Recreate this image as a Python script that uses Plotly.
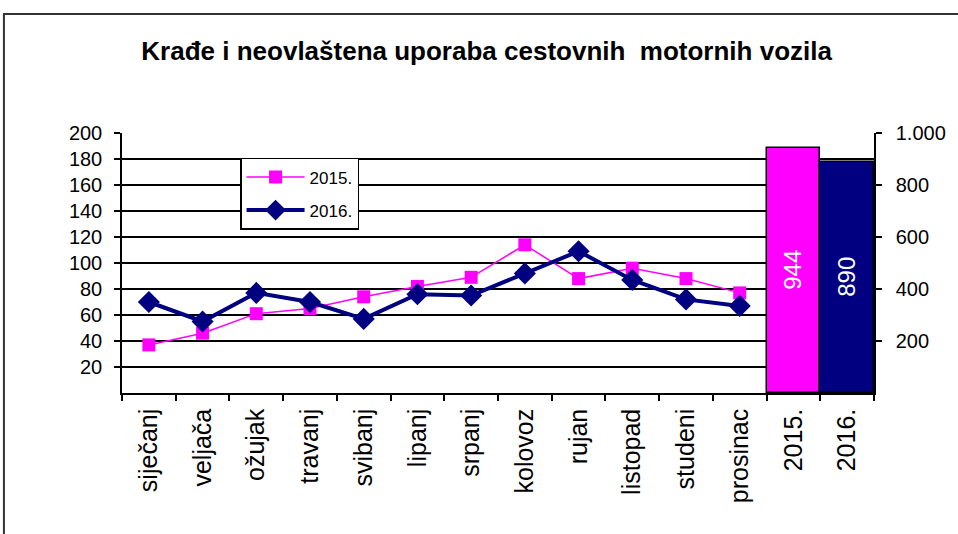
import plotly.graph_objects as go

months = ["siječanj", "veljača", "ožujak", "travanj", "svibanj", "lipanj",
          "srpanj", "kolovoz", "rujan", "listopad", "studeni", "prosinac"]
year_labels = ["2015.", "2016."]
series_2015 = [37, 46, 61, 65, 74, 82, 89, 114, 88, 96, 88, 77]
series_2016 = [70, 55, 77, 70, 57, 76, 75, 92, 109, 87, 72, 67]
totals = [944, 890]
total_colors = ["#FF00FF", "#000080"]
left_ticks = [20, 40, 60, 80, 100, 120, 140, 160, 180, 200]
right_ticks = [200, 400, 600, 800, 1000]
right_tick_text = ["200", "400", "600", "800", "1.000"]

FONT = "Liberation Sans, Arial, sans-serif"
categories = months + year_labels

fig = go.Figure()

fig.add_trace(go.Bar(
    x=year_labels, y=totals, yaxis="y2", width=1,
    marker=dict(color=total_colors, line=dict(color="black", width=1.5)),
    text=[str(v) for v in totals], textposition="inside",
    insidetextanchor="middle", textangle=-90,
    textfont=dict(color="white", size=24, family=FONT),
    showlegend=False, hoverinfo="skip",
))

fig.add_trace(go.Scatter(
    x=months, y=series_2015, name="2015.", mode="lines+markers",
    legendgroup="a",
    line=dict(color="#FF00FF", width=1.5),
    marker=dict(symbol="square", size=13, color="#FF00FF"),
))
fig.add_trace(go.Scatter(
    x=months, y=series_2016, name="2016.", mode="lines+markers",
    legendgroup="b",
    line=dict(color="#000080", width=4),
    marker=dict(symbol="diamond", size=17, color="#000080"),
))

fig.update_layout(
    width=958, height=534,
    margin=dict(l=122, r=84, t=133, b=141),
    paper_bgcolor="white", plot_bgcolor="white",
    font=dict(family=FONT, color="black", size=20),
    title=dict(text="<b>Krađe i neovlaštena uporaba cestovnih  motornih vozila</b>",
               x=0.508, xanchor="center", y=0.905, yanchor="middle",
               font=dict(size=26, family=FONT)),
    bargap=0,
    xaxis=dict(
        categoryorder="array", categoryarray=categories,
        range=[-0.5, len(categories) - 0.5],
        tickangle=-90, showline=True, linecolor="black", linewidth=1.5,
        ticks="outside", tickson="boundaries", ticklen=6, tickcolor="black",
        tickwidth=1.5, showgrid=False, mirror=False,
        tickfont=dict(size=25, family=FONT), ticklabelstandoff=4,
    ),
    yaxis=dict(
        range=[0, 200], tickvals=left_ticks, showline=True, linecolor="black",
        linewidth=1.5, ticks="outside", ticklen=6, tickcolor="black",
        tickwidth=1.5, showgrid=True, gridcolor="black", gridwidth=1.5,
        zeroline=False, tickfont=dict(size=20, family=FONT),
        ticklabelstandoff=8,
    ),
    yaxis2=dict(
        range=[0, 1000], tickvals=right_ticks, ticktext=right_tick_text,
        overlaying="y", side="right", showline=True, linecolor="black",
        linewidth=1.5, ticks="outside", ticklen=6, tickcolor="black",
        tickwidth=1.5, showgrid=False, zeroline=False,
        tickfont=dict(size=20, family=FONT), ticklabelstandoff=10,
    ),
    legend=dict(
        x=0.157, y=0.904, xanchor="left", yanchor="top",
        bgcolor="white", bordercolor="black", borderwidth=1.5,
        font=dict(size=17, family=FONT), tracegroupgap=8,
        itemwidth=58,
    ),
    shapes=[dict(type="rect", xref="paper", yref="paper",
                 x0=-0.157, x1=2, y0=-2, y1=1.458,
                 line=dict(color="#333333", width=2), layer="below")],
)

fig.write_html("out.html", config={"displayModeBar": False},
               post_script="document.body.style.margin='0';")
